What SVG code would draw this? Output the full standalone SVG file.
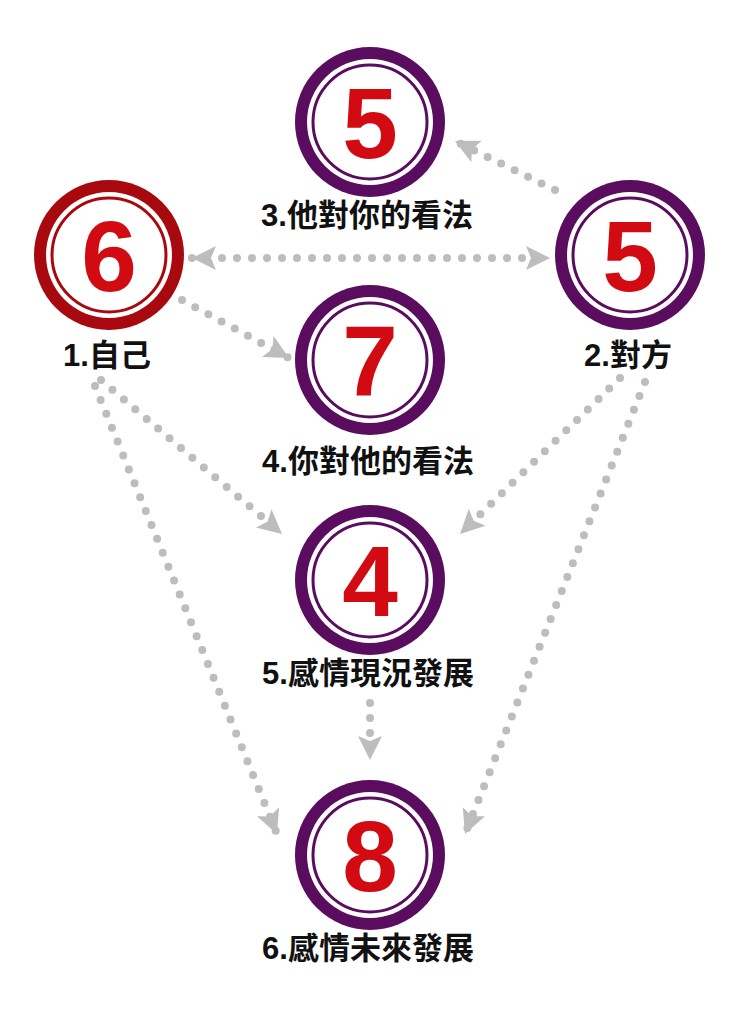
<svg xmlns="http://www.w3.org/2000/svg" width="740" height="1009" viewBox="0 0 740 1009">
<style>
.bg{fill:#fff}
.dot{stroke:#bdbdbd;stroke-width:8;stroke-linecap:round;stroke-dasharray:0 15;fill:none}
.p .o{fill:#5a0c5e}.p .t{stroke:#5a0c5e}
.r .o{fill:#a8090f}.r .t{stroke:#a8090f}
.w{fill:#fff}.t{fill:none;stroke-width:3}
.n{font-family:"Liberation Sans",Arial,sans-serif;font-weight:bold;font-size:100px;fill:#d20a11;text-anchor:middle}
.l{font-family:"Liberation Sans","Noto Sans CJK TC",sans-serif;font-weight:bold;font-size:31px;fill:#111;text-anchor:middle}
</style>
<defs>
<marker id="a" markerUnits="userSpaceOnUse" markerWidth="26" markerHeight="26" viewBox="0 0 26 26" refX="24" refY="13" orient="auto-start-reverse"><path d="M0,1 L24,13 L0,25 L5,13 Z" fill="#bdbdbd"/></marker>
</defs>
<rect class="bg" width="740" height="1009"/>
<g id="connectors">
<path class="dot" d="M555,190 L455,141" marker-end="url(#a)"/>
<path class="dot" d="M192,258 L550,258" marker-start="url(#a)" marker-end="url(#a)"/>
<path class="dot" d="M182,300 L289,358" marker-end="url(#a)"/>
<path class="dot" d="M101,380 L282,534" marker-end="url(#a)"/>
<path class="dot" d="M95,386 L277,834" marker-end="url(#a)"/>
<path class="dot" d="M620,378 L460,534" marker-end="url(#a)"/>
<path class="dot" d="M645,382 L465,834" marker-end="url(#a)"/>
<path class="dot" d="M370,703 L370,760" marker-end="url(#a)"/>
</g>
<g id="n1" class="r"><circle class="o" cx="109" cy="255" r="75"/><circle class="w" cx="109" cy="255" r="63"/><circle class="t" cx="109" cy="255" r="57"/><text class="n" x="109" y="291">6</text><text class="l" x="107" y="366">1.自己</text></g>
<g id="n2" class="p"><circle class="o" cx="630" cy="255" r="75"/><circle class="w" cx="630" cy="255" r="63"/><circle class="t" cx="630" cy="255" r="57"/><text class="n" x="630" y="291">5</text><text class="l" x="628" y="366">2.對方</text></g>
<g id="n3" class="p"><circle class="o" cx="370" cy="122" r="75"/><circle class="w" cx="370" cy="122" r="63"/><circle class="t" cx="370" cy="122" r="57"/><text class="n" x="370" y="158">5</text><text class="l" x="367" y="226">3.他對你的看法</text></g>
<g id="n4" class="p"><circle class="o" cx="370" cy="360" r="75"/><circle class="w" cx="370" cy="360" r="63"/><circle class="t" cx="370" cy="360" r="57"/><text class="n" x="370" y="396">7</text><text class="l" x="368" y="472">4.你對他的看法</text></g>
<g id="n5" class="p"><circle class="o" cx="370" cy="580" r="75"/><circle class="w" cx="370" cy="580" r="63"/><circle class="t" cx="370" cy="580" r="57"/><text class="n" x="370" y="616">4</text><text class="l" x="368" y="684">5.感情現況發展</text></g>
<g id="n6" class="p"><circle class="o" cx="370" cy="855" r="75"/><circle class="w" cx="370" cy="855" r="63"/><circle class="t" cx="370" cy="855" r="57"/><text class="n" x="370" y="891">8</text><text class="l" x="368" y="959">6.感情未來發展</text></g>
</svg>
